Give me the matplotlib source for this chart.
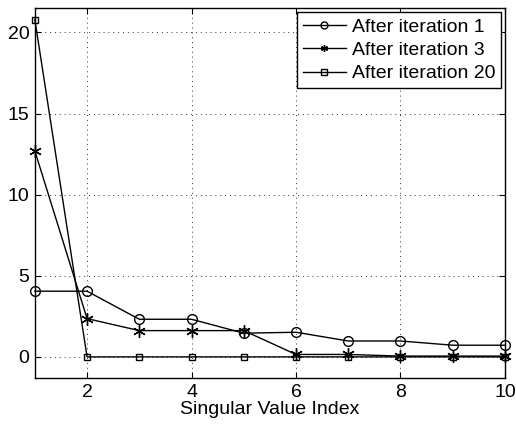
import matplotlib.pyplot as plt

plt.rcParams['font.family'] = ['Liberation Sans', 'DejaVu Sans']

index = [1, 2, 3, 4, 5, 6, 7, 8, 9, 10]
iter1 = [4.05, 4.05, 2.32, 2.32, 1.46, 1.52, 0.98, 0.98, 0.72, 0.72]
iter3 = [12.7, 2.36, 1.62, 1.62, 1.62, 0.15, 0.15, 0.05, 0.05, 0.05]
iter20 = [20.8, 0.0, 0.0, 0.0, 0.0, 0.0, 0.0, 0.0, 0.0, 0.0]

fig = plt.figure(figsize=(5.16, 4.30), dpi=100)
ax = fig.add_axes([0.0675, 0.121, 0.911, 0.860])

ax.plot(index, iter1, color="black", lw=1, marker="o", ms=7, mfc="none", mew=1,
        label="After iteration 1", clip_on=False, zorder=3)
ax.plot(index, iter3, color="black", lw=1, marker=(6, 2, 0), ms=9, mew=1,
        label="After iteration 3", clip_on=False, zorder=3)
ax.plot(index, iter20, color="black", lw=1, marker="s", ms=5, mfc="none", mew=1,
        label="After iteration 20", clip_on=False, zorder=3)

ax.set_xlim(1, 10)
ax.set_ylim(-1.3, 21.5)
ax.set_xticks([2, 4, 6, 8, 10])
ax.set_yticks([0, 5, 10, 15, 20])
ax.tick_params(direction="in", labelsize=14, length=4, top=True, right=True, pad=4)
ax.grid(True, ls=(0, (1, 4)), lw=0.7, color="#333333")
for s in ax.spines.values():
    s.set_linewidth(1)
ax.set_xlabel("Singular Value Index", fontsize=14, labelpad=0)

leg = ax.legend(loc="upper right", fontsize=14, fancybox=False, edgecolor="black",
                framealpha=1, handlelength=2.2, borderpad=0.3, labelspacing=0.3,
                handletextpad=0.3, borderaxespad=0.2)
leg.get_frame().set_linewidth(1)
for h in leg.legend_handles:
    h.set_markersize(5)

plt.savefig("out.png", dpi=100)
